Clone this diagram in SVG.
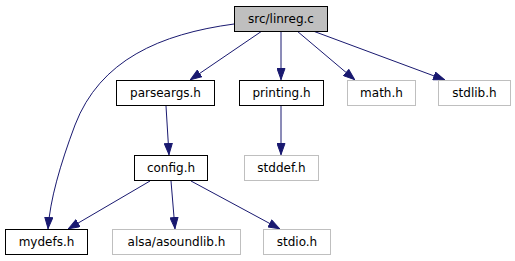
<svg xmlns="http://www.w3.org/2000/svg" width="515" height="261" viewBox="0 0 515 261">
<defs>
<style>
.node rect{stroke-width:1}
.doc rect{fill:#ffffff;stroke:#000000}
.root rect{fill:#bfbfbf;stroke:#000000}
.sys rect{fill:#ffffff;stroke:#bfbfbf}
text{font-family:"DejaVu Sans",sans-serif;font-size:12px;fill:#000000;text-anchor:middle}
.edge{fill:none;stroke:#191970;stroke-width:1;marker-end:url(#ah)}
</style>
<marker id="ah" viewBox="0 0 12 9" refX="12" refY="4.5" markerWidth="12" markerHeight="9" markerUnits="userSpaceOnUse" orient="auto">
<path d="M0.5,0.5 L11.5,4.5 L0.5,8.5 Z" fill="#191970" stroke="#191970" stroke-width="1"/>
</marker>
</defs>
<rect width="515" height="261" fill="#ffffff"/>
<g id="connectors">
<path class="edge" d="M262,31 L190,80"/>
<path class="edge" d="M281,31 L281,80"/>
<path class="edge" d="M297,31 L355,80"/>
<path class="edge" d="M313,31 L445,80"/>
<path class="edge" d="M234,24 C160,34 100,60 75,125 C60,165 50,200 48,229"/>
<path class="edge" d="M166,106 L169,155"/>
<path class="edge" d="M281,106 L281,155"/>
<path class="edge" d="M150,181 L68,229"/>
<path class="edge" d="M171,181 L175,229"/>
<path class="edge" d="M191,181 L280,229"/>
</g>
<g id="linreg" class="node root"><rect x="234.5" y="6.5" width="93" height="25"/><text x="281" y="23">src/linreg.c</text></g>
<g id="parseargs" class="node doc"><rect x="116.5" y="80.5" width="98" height="25"/><text x="165.5" y="97">parseargs.h</text></g>
<g id="printing" class="node doc"><rect x="239.5" y="80.5" width="84" height="25"/><text x="281.5" y="97">printing.h</text></g>
<g id="math" class="node sys"><rect x="347.5" y="80.5" width="68" height="25"/><text x="381.5" y="97">math.h</text></g>
<g id="stdlib" class="node sys"><rect x="438.5" y="80.5" width="72" height="25"/><text x="474.5" y="97">stdlib.h</text></g>
<g id="config" class="node doc"><rect x="134.5" y="155.5" width="73" height="25"/><text x="171" y="172">config.h</text></g>
<g id="stddef" class="node sys"><rect x="244.5" y="155.5" width="74" height="25"/><text x="281.5" y="172">stddef.h</text></g>
<g id="mydefs" class="node doc"><rect x="5.5" y="229.5" width="82" height="25"/><text x="46.5" y="246">mydefs.h</text></g>
<g id="alsa" class="node sys"><rect x="112.5" y="229.5" width="128" height="25"/><text x="176.5" y="246">alsa/asoundlib.h</text></g>
<g id="stdio" class="node sys"><rect x="263.5" y="229.5" width="67" height="25"/><text x="297" y="246">stdio.h</text></g>
</svg>
